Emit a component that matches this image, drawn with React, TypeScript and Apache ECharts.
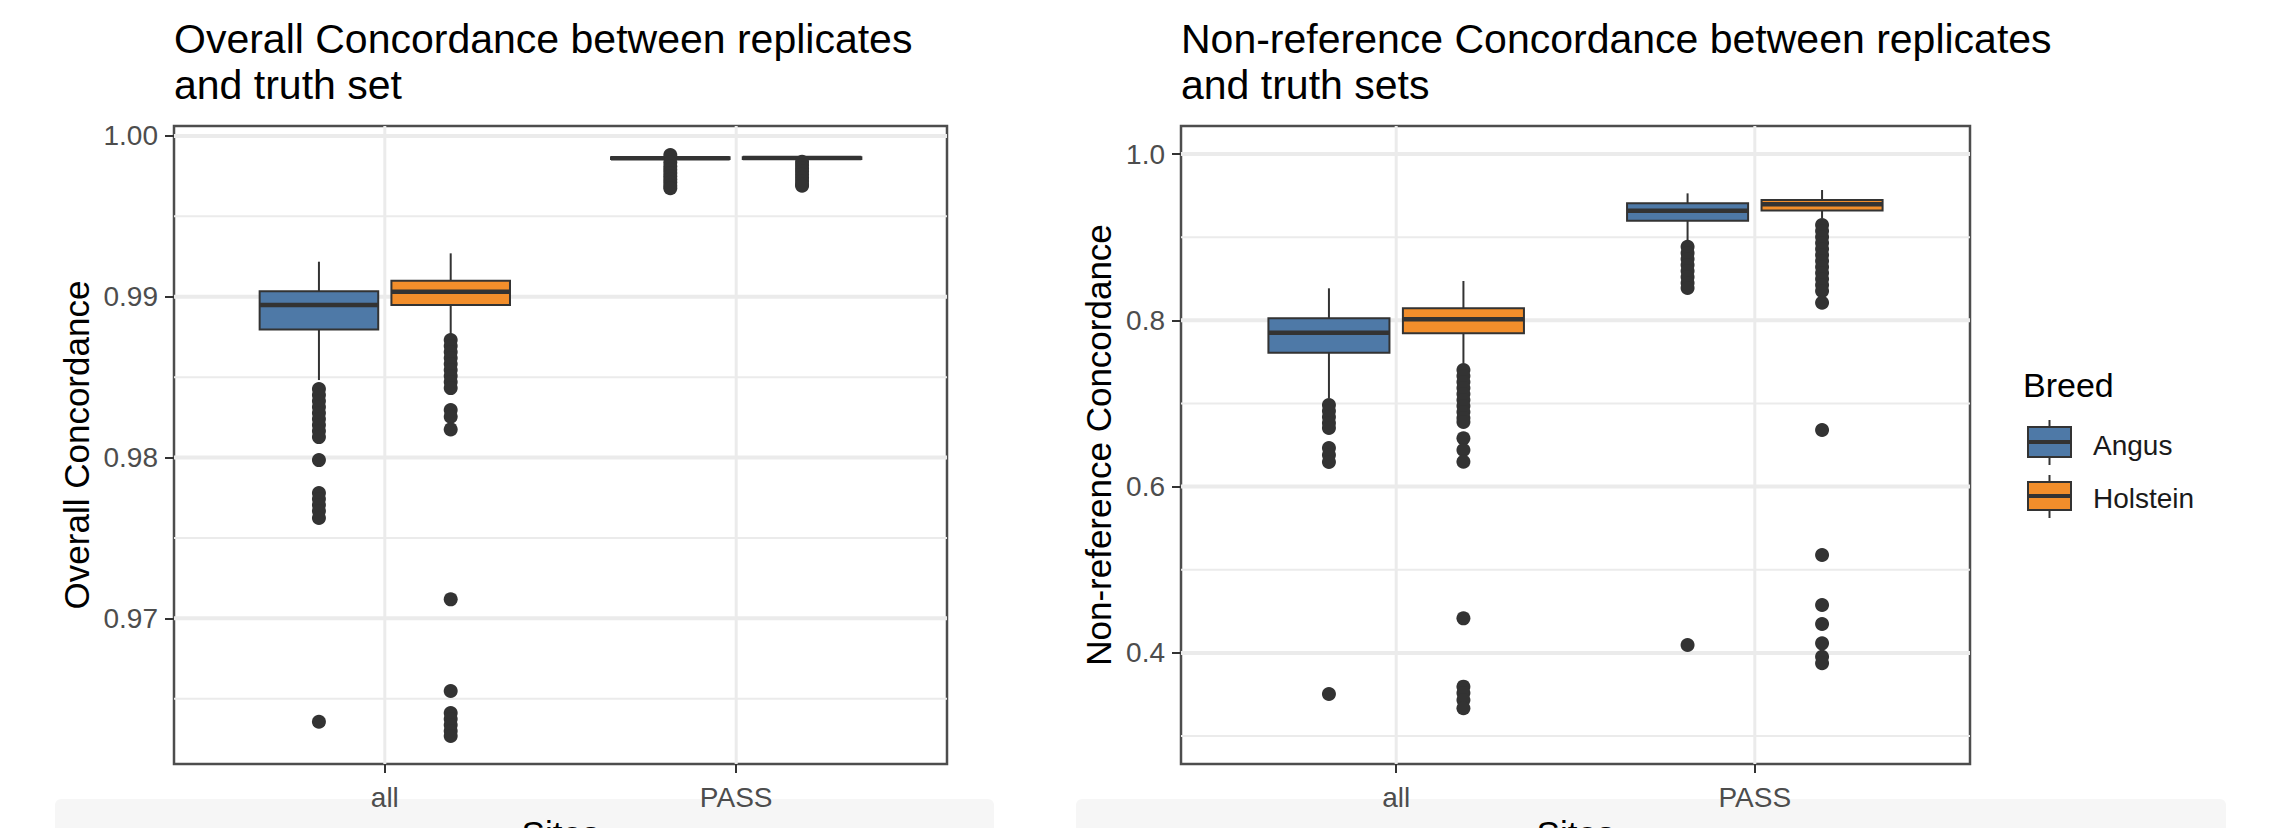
import React, { useEffect, useRef } from "react";
import * as echarts from "echarts";

// ---------------- data ----------------
const sites = ["all", "PASS"];
const breeds = ["Angus", "Holstein"];
const breedColors = ["#4E79A7", "#F28E2B"];

// box statistics per site: [lower whisker, Q1, median, Q3, upper whisker]
const overallAngusBox = [
  [0.98482, 0.98797, 0.98948, 0.99035, 0.99218],
  [0.99845, 0.99856, 0.99862, 0.99867, 0.99875],
];
const overallHolsteinBox = [
  [0.98762, 0.98948, 0.99031, 0.991, 0.9927],
  [0.99848, 0.99857, 0.99863, 0.99868, 0.99876],
];
// outliers per site: [all, PASS]
const overallAngusOutliers = [
  [0.98426, 0.98389, 0.98351, 0.98314, 0.98277, 0.98239, 0.98202, 0.98165, 0.98127,
    0.97984, 0.97779, 0.97742, 0.97705, 0.97667, 0.97624, 0.96357],
  [0.99882, 0.99835, 0.9981, 0.9979, 0.9977, 0.9975, 0.9973, 0.9971, 0.9969, 0.99675],
];
const overallHolsteinOutliers = [
  [0.98731, 0.98693, 0.98656, 0.98619, 0.98581, 0.98544, 0.98507, 0.9847, 0.98432,
    0.98295, 0.98254, 0.98175, 0.97118, 0.96548, 0.96411, 0.96374, 0.96337, 0.96299, 0.96268],
  [0.9984, 0.9982, 0.998, 0.9978, 0.9976, 0.9974, 0.9972, 0.997, 0.9969],
];

const nonrefAngusBox = [
  [0.7062, 0.761, 0.7851, 0.8024, 0.8385],
  [0.8966, 0.9198, 0.9318, 0.9407, 0.9527],
];
const nonrefHolsteinBox = [
  [0.7483, 0.7844, 0.8012, 0.8144, 0.8473],
  [0.9227, 0.932, 0.9395, 0.9447, 0.9567],
];
const nonrefAngusOutliers = [
  [0.6981, 0.6909, 0.6837, 0.6765, 0.6705, 0.6464, 0.638, 0.6296, 0.3506],
  [0.8885, 0.8809, 0.8737, 0.8665, 0.8593, 0.8521, 0.8449, 0.8388, 0.4095],
];
const nonrefHolsteinOutliers = [
  [0.7402, 0.733, 0.7258, 0.7186, 0.7114, 0.7041, 0.6969, 0.6897, 0.6825, 0.6777,
    0.6581, 0.644, 0.6299, 0.4416, 0.3594, 0.3518, 0.3434, 0.3334],
  [0.9146, 0.9074, 0.9002, 0.893, 0.8857, 0.8785, 0.8713, 0.8641, 0.8569, 0.8497,
    0.8425, 0.8352, 0.8212, 0.6681, 0.5177, 0.4576, 0.4348, 0.4115, 0.3954, 0.3875],
];

// axis ticks and grid breaks
const overallTicks = [0.97, 0.98, 0.99, 1.0];
const overallMinor = [0.965, 0.975, 0.985, 0.995];
const nonrefTicks = [0.4, 0.6, 0.8, 1.0];
const nonrefMinor = [0.3, 0.5, 0.7, 0.9];
const siteTicks = [1, 2];

// ---------------- styling / layout ----------------
const FONT = "'Liberation Sans', Arial, Helvetica, sans-serif";
const DODGE = [-0.1875, 0.1875];
const HALF = 0.16875;
const INK = "#333333";

function boxSeries(data: number[][], breedIdx: number, axisIdx: number) {
  return {
    type: "custom",
    xAxisIndex: axisIdx,
    yAxisIndex: axisIdx,
    z: 3,
    silent: true,
    encode: { x: 0, y: [1, 2, 3, 4, 5] },
    data: data.map((b, s) => [s, ...b]),
    renderItem: (params: any, api: any) => {
      const x = api.value(0) + 1 + DODGE[breedIdx];
      const lo = api.value(1), q1 = api.value(2), med = api.value(3), q3 = api.value(4), hi = api.value(5);
      const tl = api.coord([x - HALF, q3]);
      const br = api.coord([x + HALF, q1]);
      const pHi = api.coord([x, hi]);
      const pQ3 = api.coord([x, q3]);
      const pQ1 = api.coord([x, q1]);
      const pLo = api.coord([x, lo]);
      const mL = api.coord([x - HALF, med]);
      const mR = api.coord([x + HALF, med]);
      const lineStyle = { stroke: INK, lineWidth: 2 };
      return {
        type: "group",
        children: [
          { type: "line", shape: { x1: pHi[0], y1: pHi[1], x2: pQ3[0], y2: pQ3[1] }, style: lineStyle },
          { type: "line", shape: { x1: pQ1[0], y1: pQ1[1], x2: pLo[0], y2: pLo[1] }, style: lineStyle },
          {
            type: "rect",
            shape: { x: tl[0], y: tl[1], width: br[0] - tl[0], height: br[1] - tl[1] },
            style: { fill: breedColors[breedIdx], stroke: INK, lineWidth: 2 },
          },
          { type: "line", shape: { x1: mL[0], y1: mL[1], x2: mR[0], y2: mR[1] }, style: { stroke: INK, lineWidth: 4.5 } },
        ],
      };
    },
  };
}

function outlierSeries(perSite: number[][], breedIdx: number, axisIdx: number) {
  return {
    type: "scatter",
    xAxisIndex: axisIdx,
    yAxisIndex: axisIdx,
    z: 4,
    silent: true,
    symbol: "circle",
    symbolSize: 14,
    itemStyle: { color: INK, opacity: 1 },
    data: perSite.flatMap((vals, s) => vals.map((v) => [s + 1 + DODGE[breedIdx], v])),
  };
}

function gridSeries(major: number[], minor: number[], axisIdx: number) {
  const data = [
    ...major.map((v) => [v, 0]),
    ...minor.map((v) => [v, 1]),
    ...siteTicks.map((v) => [v, 2]),
  ];
  return {
    type: "custom",
    xAxisIndex: axisIdx,
    yAxisIndex: axisIdx,
    z: 1,
    silent: true,
    encode: { x: -1, y: -1 },
    data,
    renderItem: (params: any, api: any) => {
      const cs = params.coordSys;
      const v = api.value(0);
      const kind = api.value(1);
      if (kind === 2) {
        const px = api.coord([v, 0.5])[0];
        return {
          type: "line",
          shape: { x1: px, y1: cs.y, x2: px, y2: cs.y + cs.height },
          style: { stroke: "#EBEBEB", lineWidth: 3 },
        };
      }
      const py = api.coord([1, v])[1];
      return {
        type: "line",
        shape: { x1: cs.x, y1: py, x2: cs.x + cs.width, y2: py },
        style: { stroke: "#EBEBEB", lineWidth: kind === 0 ? 4 : 2 },
      };
    },
  };
}

function xAxis(gridIndex: number) {
  return {
    type: "value",
    gridIndex,
    min: 0.4,
    max: 2.6,
    splitLine: { show: false },
    axisLine: { show: false },
    axisTick: { show: true, customValues: siteTicks, length: 9, lineStyle: { color: INK, width: 2 } },
    axisLabel: {
      customValues: siteTicks,
      formatter: (v: number) => sites[Math.round(v) - 1],
      fontSize: 28,
      fontFamily: FONT,
      color: "#4D4D4D",
      margin: 19,
    },
    name: "Sites",
    nameLocation: "middle",
    nameGap: 52,
    nameTextStyle: { fontSize: 35, fontFamily: FONT, color: "#000" },
  };
}

function yAxis(gridIndex: number, min: number, max: number, ticks: number[], digits: number, name: string, nameGap: number) {
  return {
    type: "value",
    gridIndex,
    min,
    max,
    splitLine: { show: false },
    axisLine: { show: false },
    axisTick: { show: true, customValues: ticks, length: 9, lineStyle: { color: INK, width: 2 } },
    axisLabel: {
      customValues: ticks,
      formatter: (v: number) => v.toFixed(digits),
      fontSize: 28,
      fontFamily: FONT,
      color: "#4D4D4D",
      margin: 16,
    },
    name,
    nameLocation: "middle",
    nameRotate: 90,
    nameGap,
    nameTextStyle: { fontSize: 35, fontFamily: FONT, color: "#000" },
  };
}

function legendKey(y: number, color: string, label: string, boxTop: number, boxH: number, wTop: number, wBot: number, med: number) {
  return [
    { type: "line", shape: { x1: 2049.5, y1: wTop, x2: 2049.5, y2: wBot }, style: { stroke: INK, lineWidth: 2 } },
    { type: "rect", shape: { x: 2028, y: boxTop, width: 43, height: boxH }, style: { fill: color, stroke: INK, lineWidth: 2 } },
    { type: "line", shape: { x1: 2028, y1: med, x2: 2071, y2: med }, style: { stroke: INK, lineWidth: 4 } },
    {
      type: "text",
      x: 2093,
      y,
      style: { text: label, fontSize: 28, fontFamily: FONT, fill: "#1A1A1A", align: "left", verticalAlign: "middle" },
    },
  ];
}

export default function App() {
  const ref = useRef<HTMLDivElement>(null);
  useEffect(() => {
    if (!ref.current) return;
    const chart = echarts.init(ref.current, undefined, { renderer: "svg" });
    const titleStyle = { fontSize: 41, fontWeight: "normal", color: "#000", fontFamily: FONT, lineHeight: 46 };
    const gridCommon = {
      show: true,
      borderColor: "#4D4D4D",
      borderWidth: 2.5,
      backgroundColor: "transparent",
      containLabel: false,
      outerBoundsMode: "none",
    };
    chart.setOption({
      animation: false,
      backgroundColor: "#FFFFFF",
      title: [
        { text: "Overall Concordance between replicates\nand truth set", left: 174, top: 16, padding: 0, textStyle: titleStyle },
        { text: "Non-reference Concordance between replicates\nand truth sets", left: 1181, top: 16, padding: 0, textStyle: titleStyle },
      ],
      grid: [
        { ...gridCommon, left: 174, top: 126, width: 773, height: 638 },
        { ...gridCommon, left: 1181, top: 126, width: 789, height: 638 },
      ],
      xAxis: [xAxis(0), xAxis(1)],
      yAxis: [
        yAxis(0, 0.96094, 1.00062, overallTicks, 2, "Overall Concordance", 80),
        yAxis(1, 0.2664, 1.0337, nonrefTicks, 1, "Non-reference Concordance", 65),
      ],
      series: [
        gridSeries(overallTicks, overallMinor, 0),
        gridSeries(nonrefTicks, nonrefMinor, 1),
        boxSeries(overallAngusBox, 0, 0),
        boxSeries(overallHolsteinBox, 1, 0),
        boxSeries(nonrefAngusBox, 0, 1),
        boxSeries(nonrefHolsteinBox, 1, 1),
        outlierSeries(overallAngusOutliers, 0, 0),
        outlierSeries(overallHolsteinOutliers, 1, 0),
        outlierSeries(nonrefAngusOutliers, 0, 1),
        outlierSeries(nonrefHolsteinOutliers, 1, 1),
      ],
      graphic: [
        { type: "rect", z: -1, silent: true, shape: { x: 55, y: 799, width: 939, height: 40, r: 6 }, style: { fill: "#F6F6F6" } },
        { type: "rect", z: -1, silent: true, shape: { x: 1076, y: 799, width: 1150, height: 40, r: 6 }, style: { fill: "#F6F6F6" } },
        {
          type: "text",
          x: 2023,
          y: 385,
          style: { text: "Breed", fontSize: 34, fontFamily: FONT, fill: "#000", align: "left", verticalAlign: "middle" },
        },
        ...legendKey(445, breedColors[0], breeds[0], 427, 30, 420, 465, 442),
        ...legendKey(498, breedColors[1], breeds[1], 482, 28, 475, 518, 496),
      ],
    });
    return () => chart.dispose();
  }, []);
  return <div ref={ref} style={{ position: "fixed", left: 0, top: 0, width: 2291, height: 828 }} />;
}
